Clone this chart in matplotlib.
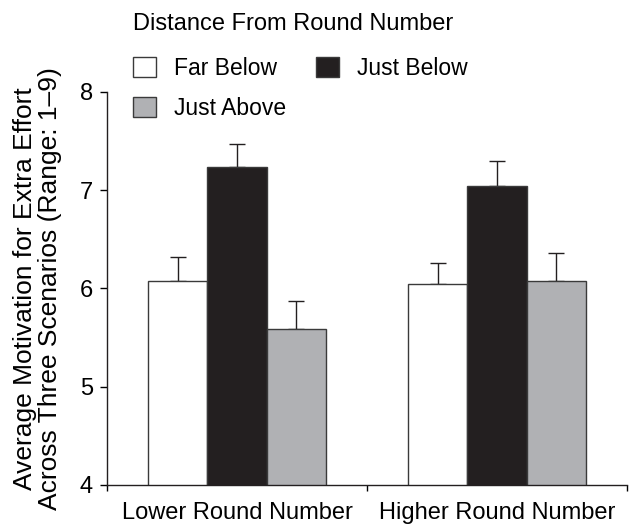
import matplotlib
matplotlib.use("Agg")
import matplotlib.pyplot as plt
from matplotlib.patches import Patch
import numpy as np

plt.rcParams['font.family'] = ['Liberation Sans', 'DejaVu Sans']

groups = ["Lower Round Number", "Higher Round Number"]
series = ["Far Below", "Just Below", "Just Above"]
means = {
    "Far Below": [6.08, 6.05],
    "Just Below": [7.24, 7.04],
    "Just Above": [5.59, 6.08],
}
errors = {
    "Far Below": [0.24, 0.21],
    "Just Below": [0.23, 0.26],
    "Just Above": [0.28, 0.28],
}
colors = {"Far Below": "#ffffff", "Just Below": "#231f20", "Just Above": "#b0b1b4"}
yticks = [4, 5, 6, 7, 8]

fig = plt.figure(figsize=(6.32, 5.25), dpi=100)
ax = fig.add_axes([0.1693, 0.0762, 0.8228, 0.7486])

centers = np.array([0.5, 1.5])
w = 0.228
for i, s in enumerate(series):
    x = centers + (i - 1) * w
    ax.bar(x, means[s], width=w, bottom=0, color=colors[s], edgecolor="#3a3a3a",
           linewidth=1.0, zorder=2)
    ax.errorbar(x, means[s], yerr=[np.zeros(2), errors[s]], fmt="none",
                ecolor="#231f20", elinewidth=1.0, capsize=6, capthick=1.0, zorder=1)

ax.set_ylim(4, 8)
ax.set_xlim(0, 2)
ax.set_yticks(yticks)
ax.set_yticklabels([str(t) for t in yticks], fontsize=17)
ax.set_xticks([0, 1, 2])
ax.set_xticklabels([])
ax.set_xticks(centers, minor=True)
ax.set_xticklabels(groups, minor=True, fontsize=17)
ax.tick_params(axis="x", which="minor", length=0, pad=12)
ax.tick_params(axis="x", which="major", length=4, direction="out", width=1)
ax.tick_params(axis="y", length=5, width=1, pad=5)
for sp in ["top", "right"]:
    ax.spines[sp].set_visible(False)
ax.spines["left"].set_bounds(4, 8)
ax.spines["left"].set_linewidth(1)
ax.spines["bottom"].set_linewidth(1)
ax.spines["left"].set_color("#231f20")
ax.spines["bottom"].set_color("#231f20")

ax.set_ylabel("Average Motivation for Extra Effort\nAcross Three Scenarios (Range: 1\u20139)",
              fontsize=19, labelpad=13, linespacing=1.05)

handles = [Patch(facecolor=colors[s], edgecolor="#3a3a3a", linewidth=1.0, label=s) for s in series]
order = [0, 2, 1]
leg = fig.legend([handles[i] for i in order], [series[i] for i in order],
                 ncol=2, loc="upper left", bbox_to_anchor=(0.1924, 0.9976),
                 title="Distance From Round Number", title_fontsize=17,
                 fontsize=16.5, frameon=False, alignment="left",
                 handlelength=1.0, handleheight=1.0, handletextpad=0.8,
                 columnspacing=1.28, labelspacing=0.73, borderpad=0.0)
leg._legend_box.sep = 16

fig.savefig("out.png", dpi=100)
